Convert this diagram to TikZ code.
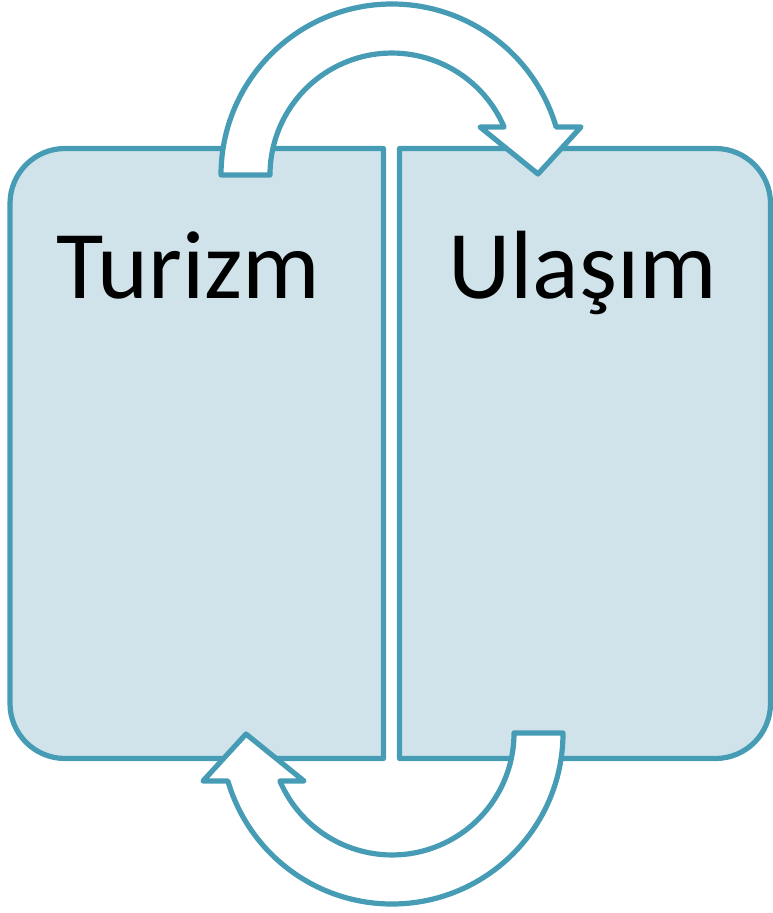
\documentclass[tikz,border=0pt]{standalone}
\usepackage{fontspec}
\setmainfont{Carlito}
\definecolor{edge}{RGB}{70,156,180}
\definecolor{boxfill}{RGB}{208,227,234}
\tikzset{
  panel/.style={draw=edge, fill=boxfill, line width=5.2pt, line join=round},
  cyclearrow/.style={draw=edge, fill=white, line width=5.2pt, line join=round},
  title/.style={anchor=base, inner sep=0pt, font=\fontsize{97}{116}\selectfont}
}
\begin{document}
\begin{tikzpicture}[x=1pt, y=-1pt]
\useasboundingbox (0,0) rectangle (773,913);
% left panel
\path[panel] (383.5,148.5) -- (65,148.5) arc[start angle=270, end angle=180, radius=55]
  -- (10,703.5) arc[start angle=180, end angle=90, radius=55] -- (383.5,758.5) -- cycle;
% right panel
\path[panel] (399.5,148.5) -- (715.5,148.5) arc[start angle=270, end angle=360, radius=55]
  -- (770.5,703.5) arc[start angle=0, end angle=90, radius=55] -- (399.5,758.5) -- cycle;
% top circular arrow
\path[cyclearrow] (221,175) arc[start angle=180, end angle=343.7, radius=171]
  -- (581,127) -- (538,174) -- (480,127) -- (504.1,127)
  arc[start angle=336.8, end angle=180, radius=122] -- cycle;
% bottom circular arrow
\begin{scope}[rotate around={180:(392,454)}]
\path[cyclearrow] (221,175) arc[start angle=180, end angle=343.7, radius=171]
  -- (581,127) -- (538,174) -- (480,127) -- (504.1,127)
  arc[start angle=336.8, end angle=180, radius=122] -- cycle;
\end{scope}
\node[title] (turizm) at (188.5,298) {Turizm};
\node[title] (ulasim) at (582.5,298) {Ulaşım};
\end{tikzpicture}
\end{document}
